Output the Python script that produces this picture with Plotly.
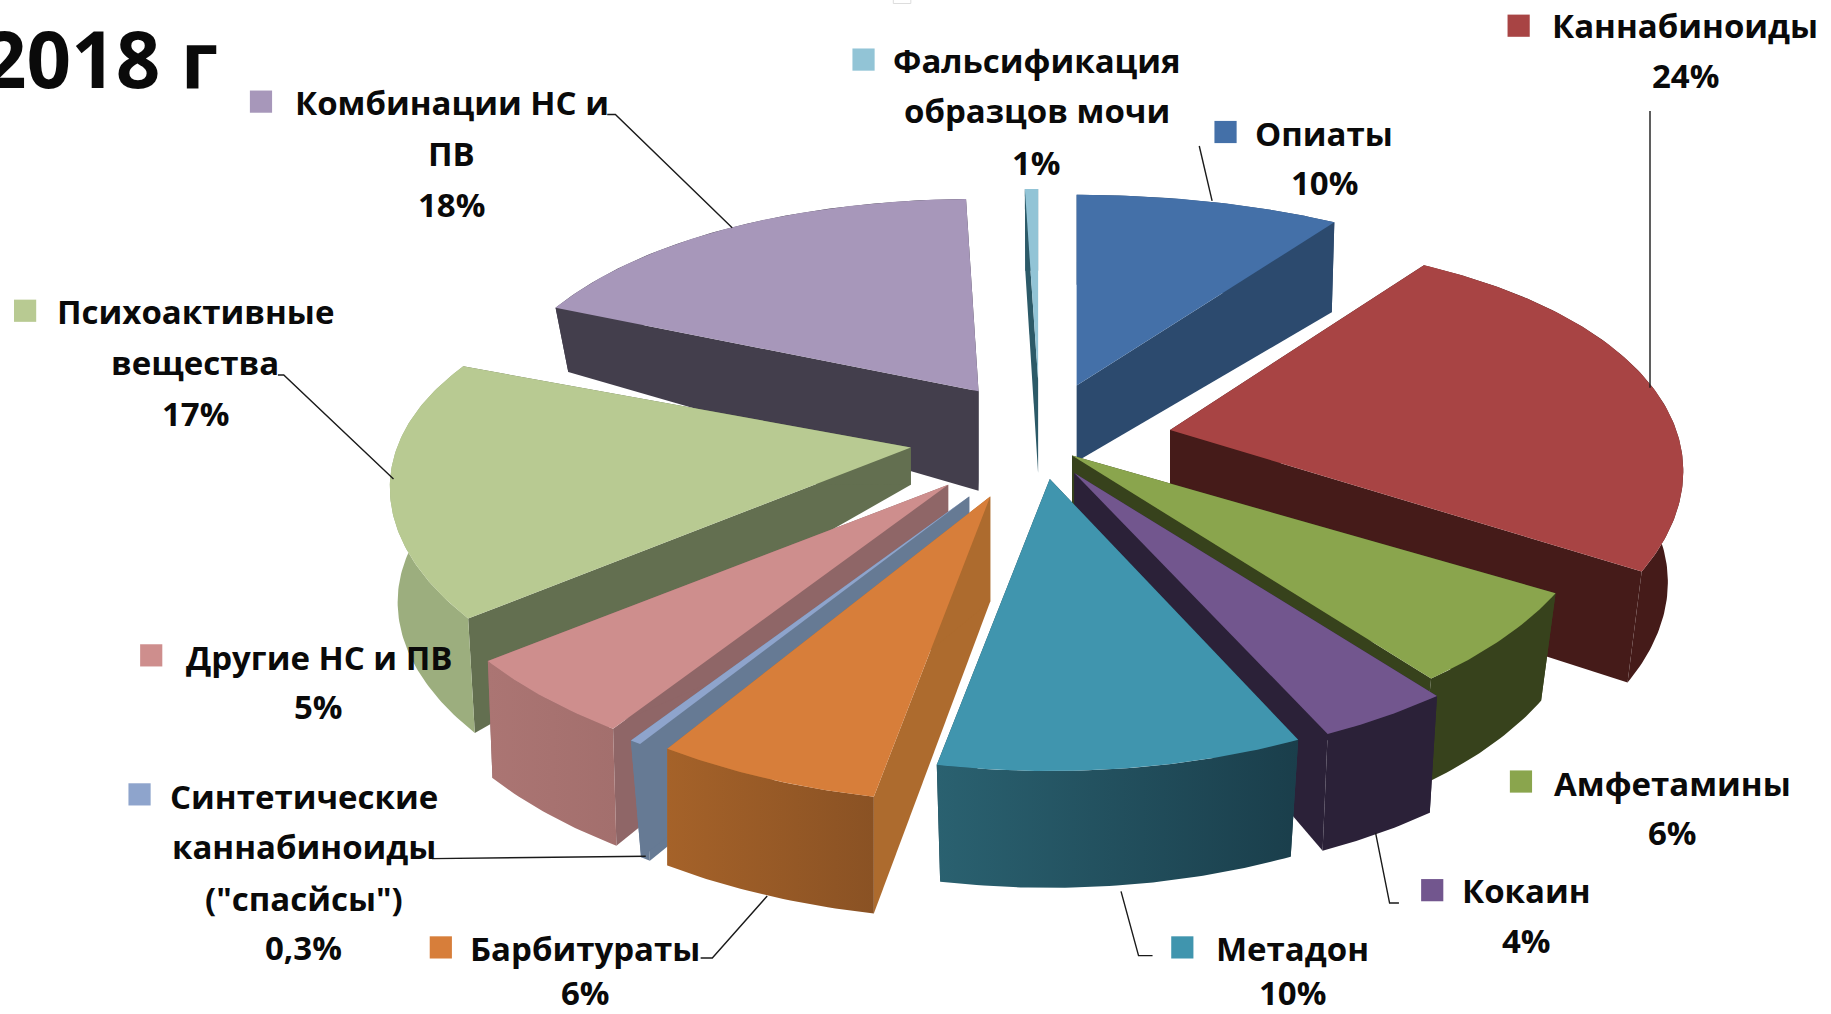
import numpy as np
import plotly.graph_objects as go

# ---- data (clockwise from 12 o'clock)
categories = ["Опиаты", "Каннабиноиды", "Амфетамины", "Кокаин", "Метадон", "Барбитураты",
              "Синтетические каннабиноиды (\"спасйсы\")", "Другие НС и ПВ",
              "Психоактивные вещества", "Комбинации НС и ПВ", "Фальсификация образцов мочи"]
values = [10, 24, 6, 3.6, 10, 6, 0.3, 5, 17, 18.7, 0.5]

# ---- styling of each slice
top_colors = ["#4470a8", "#a84444", "#8aa54d", "#72568e", "#4095ae", "#d77e3a", "#8ea4cc", "#ce8e8d", "#b8ca92", "#a797ba", "#92c4d6"]
side_colors = ["#2c4a6e", "#451b19", "#37421c", "#2b2138", "#1f4552", "#ad6b2e", "#667a94", "#8f6667", "#636f50", "#433e4c", "#2c5a68"]
rim_left = ["#2c4a6e", "#451b19", "#37421c", "#2b2138", "#2a6170", "#a56229", "#667a94", "#ab7573", "#9cae7e", "#433e4c", "#2c5a68"]
rim_right = ["#2c4a6e", "#451b19", "#37421c", "#2b2138", "#1a3e4b", "#8a5224", "#667a94", "#a36f6d", "#9cae7e", "#433e4c", "#2c5a68"]
# exploded apex of each slice, extrusion depth and perspective stretch, canvas units
apex_x = [922, 1002, 918, 920, 899, 848, 830, 812, 780, 838, 889]
apex_y = [330, 368, 390, 405, 410, 425, 425, 415, 383, 335, 325]
depth_apex = [65, 90, 70, 75, 60, 90, 90, 80, 32, 85, 80]
depth_rim = [77, 95, 92, 100, 100, 100, 100, 100, 98, 55, 70]
stretch_x = [1, 0.985, 1.01, 1.02, 1, 1.03, 1.05, 1.04, 1, 0.945, 1]
stretch_y = [1.02, 1.03, 1, 1, 1, 1.05, 1.03, 1.03, 1, 1.03, 1.02]
wall_shrink = [0.99, 0.97, 0.97, 0.98, 0.97, 1.0, 0.97, 0.99, 0.985, 0.97, 0.97]
draw_order = [10, 0, 9, 1, 8, 2, 7, 3, 6, 5, 4]

W, H = 1568, 868
INK = "#0a0a0a"
FONT = "Open Sans"


def rim(theta, ax, ay, sx, sy):
    s, c = np.sin(theta), np.cos(theta)
    return ax + sx * (440 - 75 * c) * s, ay - sy * (205 - 45 * c) * c


fig = go.Figure()


def poly(xs, ys, color, grad=None):
    kw = dict(x=list(xs), y=list(ys), mode="lines", fill="toself", line=dict(width=0, color=color),
              hoverinfo="skip", showlegend=False)
    if grad:
        kw["fillgradient"] = dict(type="horizontal", colorscale=[[0, grad[0]], [1, grad[1]]])
    else:
        kw["fillcolor"] = color
    fig.add_trace(go.Scatter(**kw))


edges = np.cumsum([0] + values) / sum(values) * 2 * np.pi
for i in draw_order:
    ax, ay = apex_x[i], apex_y[i]
    th = np.linspace(edges[i], edges[i + 1], max(3, int(values[i] * 5)))
    x, y = rim(th, ax, ay, stretch_x[i], stretch_y[i])
    xb, yb = ax + (x - ax) * wall_shrink[i], y + depth_rim[i]
    bx, by = ax, ay + depth_apex[i]
    # radial walls
    for k in (0, -1):
        poly([ax, x[k], xb[k], bx], [ay, y[k], yb[k], by], side_colors[i])
    # outer wall
    poly(np.r_[x, xb[::-1]], np.r_[y, yb[::-1]], rim_left[i], grad=(rim_left[i], rim_right[i]))
    # top face
    poly(np.r_[ax, x], np.r_[ay, y], top_colors[i])

# ---- label layout: (text, centre x, centre y)
label_lines = [
    ("Каннабиноиды", 1443, 22), ("24%", 1443, 65),
    ("Фальсификация", 888, 52), ("образцов мочи", 888, 95), ("1%", 888, 139),
    ("Опиаты", 1134, 114), ("10%", 1134, 156),
    ("Комбинации НС и", 387, 88), ("ПВ", 387, 131), ("18%", 387, 175),
    ("Психоактивные", 167, 267), ("вещества", 167, 310), ("17%", 167, 354),
    ("Другие НС и ПВ", 273, 563), ("5%", 273, 605),
    ("Синтетические", 260, 682), ("каннабиноиды", 260, 725), ("(\"спасйсы\")", 260, 769), ("0,3%", 260, 811),
    ("Барбитураты", 501, 812), ("6%", 501, 850),
    ("Метадон", 1107, 812), ("10%", 1107, 850),
    ("Кокаин", 1307, 762), ("4%", 1307, 805),
    ("Амфетамины", 1432, 671), ("6%", 1432, 713),
]
annotations = [dict(x=x, y=y, text=t, showarrow=False, xanchor="center", yanchor="middle",
                    font=dict(family=FONT, size=33, color=INK, weight="bold")) for t, x, y in label_lines]
annotations.append(dict(x=188, y=50, text="2018 г", showarrow=False, xanchor="right", yanchor="middle",
                        font=dict(family=FONT, size=78, color=INK, weight="bold")))

# legend keys: (slice index, left x, centre y)
keys = [(1, 1291, 22), (10, 730, 51), (0, 1040, 113), (9, 214, 87), (8, 12, 266), (7, 120, 561),
        (6, 110, 680), (5, 368, 811), (4, 1003, 811), (3, 1217, 762), (2, 1293, 669)]
shapes = [dict(type="rect", xref="x", yref="y", x0=x, x1=x + 19, y0=y - 9.5, y1=y + 9.5,
               fillcolor=top_colors[i], line=dict(width=0), layer="above") for i, x, y in keys]
# faint scan artefact at the top edge of the source picture
shapes.append(dict(type="rect", xref="x", yref="y", x0=765, x1=780, y0=-4, y1=3,
                   fillcolor="white", line=dict(width=1, color="#dddddd")))

# leader lines
leaders = [
    [(520, 98), (527, 98), (627, 195)],
    [(238, 321), (243, 321), (337, 410)],
    [(1027, 125), (1038, 172)],
    [(1413, 95), (1413, 332)],
    [(370, 735), (553, 733)],
    [(600, 820), (610, 820), (657, 767)],
    [(987, 818), (975, 818), (960, 763)],
    [(1198, 773), (1190, 773), (1178, 713)],
]
for pts in leaders:
    fig.add_trace(go.Scatter(x=[p[0] for p in pts], y=[p[1] for p in pts], mode="lines",
                             line=dict(color="#1a1a1a", width=1.4), hoverinfo="skip", showlegend=False))

fig.update_layout(
    width=1831, height=1014, autosize=False,
    margin=dict(l=0, r=0, t=0, b=0), paper_bgcolor="white", plot_bgcolor="white",
    xaxis=dict(range=[0, W], visible=False, fixedrange=True),
    yaxis=dict(range=[H, 0], visible=False, fixedrange=True),
    annotations=annotations, shapes=shapes,
)
fig.write_html("out.html", config=dict(displayModeBar=False),
               post_script="document.body.style.margin='0';document.body.style.overflow='hidden';")
